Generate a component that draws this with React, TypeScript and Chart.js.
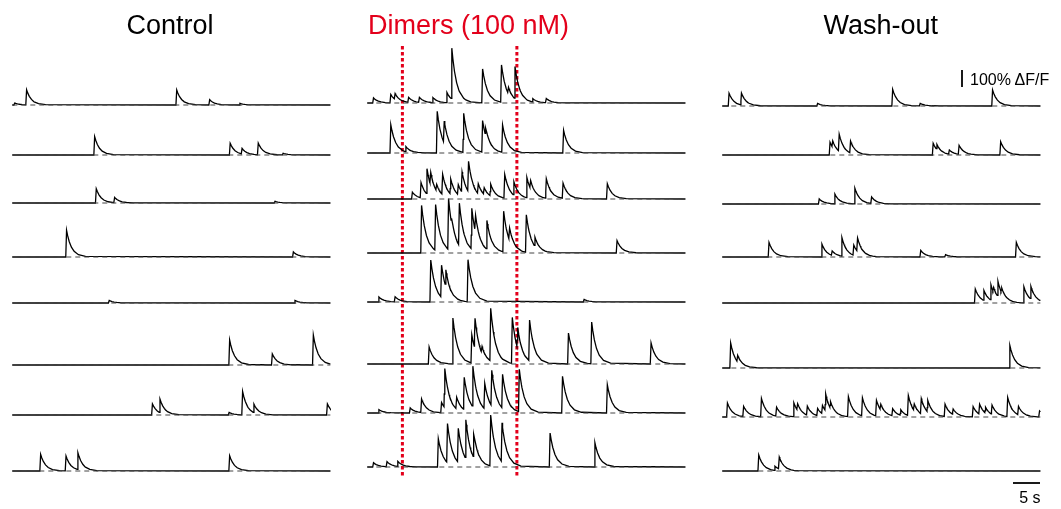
import React, { useEffect, useRef } from "react";
import { Chart, registerables } from "chart.js";

Chart.register(...registerables);

const W = 1061;
const H = 509;
const PX_PER_S = 5.4; // 5 s scale bar = 27 px
const PX_PER_UNIT = 17; // 100% ΔF/F scale bar = 17 px
const TRACE_SECONDS = 58.9;
const RISE = 0.15;
const TAU = 0.9;
const DECAY_KEYS = [0, RISE, RISE + 0.2, RISE + 0.5, RISE + 0.9, RISE + 1.4, RISE + 2.2, RISE + 3.5];

const RED = "#e3001b";

const panelTitles = ["Control", "Dimers (100 nM)", "Wash-out"];
const titleColors = ["#000000", RED, "#000000"];
const titleCentersPx = [170, 468.5, 880.7];
const panelLeftPx = [12.3, 367.3, 722.3];
const rowBaselinePx = [
  [105, 155, 203, 257, 303, 365, 415, 471],
  [103, 153, 199, 253, 302, 364, 413, 467],
  [106, 155, 204, 257, 303, 368, 417, 471],
];

// Dimer application window (s, within the middle panel)
const dimerWindow = [6.5, 27.7];

// Calcium transients: [time (s), amplitude (ΔF/F)]
const controlEvents: number[][][] = [
  [[0.3, 0.12], [2.5, 0.88], [30.3, 0.88], [36.4, 0.31], [42.0, 0.1]],
  [[15.1, 1.08], [40.2, 0.69], [42.4, 0.33], [45.4, 0.69], [50.0, 0.1]],
  [[15.4, 0.84], [18.8, 0.31], [48.5, 0.1]],
  [[9.9, 1.57], [51.9, 0.3]],
  [[17.8, 0.15], [52.2, 0.15]],
  [[40.1, 1.47], [48.0, 0.65], [55.6, 1.76]],
  [[25.8, 0.65], [27.2, 0.8], [40.0, 0.15], [42.5, 1.37], [44.6, 0.5], [58.2, 0.65]],
  [[5.1, 0.98], [9.8, 0.88], [12.0, 1.0], [40.1, 0.9]],
];

const dimerEvents: number[][][] = [
  [[1.0, 0.3], [4.2, 0.5], [5.0, 0.35], [7.5, 0.3], [9.5, 0.3], [12.0, 0.3], [14.6, 0.6], [15.5, 3.0], [21.2, 2.0], [24.7, 2.2], [26.0, 0.4], [27.2, 1.9], [30.5, 0.2], [33.0, 0.25]],
  [[4.2, 1.67], [7.0, 0.3], [12.8, 2.45], [14.1, 1.3], [17.7, 2.3], [21.2, 1.86], [21.8, 0.5], [24.9, 1.6], [36.2, 1.33]],
  [[8.2, 0.4], [9.8, 0.9], [10.9, 1.5], [11.6, 0.75], [12.7, 0.4], [13.8, 1.2], [15.3, 0.9], [16.7, 0.6], [17.4, 1.2], [18.6, 1.8], [20.4, 0.6], [21.5, 0.4], [22.7, 0.7], [25.3, 1.4], [27.0, 0.8], [29.4, 1.2], [30.1, 0.5], [33.0, 1.15], [36.1, 0.9], [44.3, 0.9]],
  [[9.9, 2.8], [12.5, 2.7], [14.9, 3.0], [15.5, 0.4], [16.9, 2.5], [19.2, 2.4], [19.9, 1.0], [22.0, 1.7], [25.1, 2.4], [26.2, 0.75], [29.3, 2.2], [30.9, 0.55], [46.1, 0.73]],
  [[2.0, 0.3], [5.0, 0.3], [11.6, 2.47], [13.6, 1.9], [14.4, 1.0], [18.5, 2.47], [40.0, 0.15]],
  [[11.3, 1.0], [15.7, 2.7], [19.2, 1.67], [19.8, 1.8], [21.1, 0.4], [22.7, 3.1], [26.7, 2.7], [27.7, 1.25], [29.9, 2.4], [37.1, 1.82], [41.4, 2.45], [52.4, 1.24]],
  [[2.0, 0.2], [7.8, 0.3], [9.9, 0.8], [13.6, 0.6], [14.2, 2.3], [16.4, 0.7], [17.8, 1.9], [19.4, 2.4], [21.6, 1.5], [22.9, 2.1], [24.9, 2.0], [28.0, 2.5], [36.0, 2.16], [44.3, 1.67]],
  [[1.0, 0.25], [3.5, 0.3], [5.5, 0.3], [13.0, 1.67], [14.7, 2.3], [16.7, 2.0], [18.1, 2.3], [19.6, 1.4], [22.7, 3.0], [24.8, 2.3], [33.7, 2.0], [42.0, 1.43]],
];

const washEvents: number[][][] = [
  [[1.1, 0.75], [3.4, 0.7], [17.5, 0.15], [31.4, 0.98], [36.5, 0.15], [49.9, 0.94]],
  [[19.8, 0.75], [20.3, 0.4], [21.5, 1.0], [23.6, 0.7], [38.9, 0.69], [39.6, 0.3], [41.9, 0.25], [43.7, 0.53], [51.4, 0.78]],
  [[17.8, 0.3], [20.7, 0.57], [24.4, 0.92], [27.5, 0.39]],
  [[8.5, 0.86], [18.3, 0.76], [20.2, 0.27], [22.0, 1.1], [24.2, 0.6], [24.9, 0.8], [36.6, 0.39], [41.2, 0.14], [54.3, 0.86]],
  [[46.7, 0.82], [48.3, 0.6], [49.6, 0.9], [50.1, 0.3], [50.9, 0.9], [51.6, 0.3], [55.7, 0.95], [57.0, 0.75]],
  [[1.4, 1.47], [2.7, 0.4], [53.1, 1.33]],
  [[0.8, 0.82], [3.8, 0.6], [7.1, 1.08], [9.9, 0.53], [13.1, 0.82], [13.8, 0.4], [15.6, 0.53], [17.5, 0.43], [18.4, 0.5], [19.0, 1.0], [19.9, 0.4], [23.2, 1.18], [25.8, 1.06], [28.4, 0.92], [29.2, 0.35], [31.4, 0.43], [32.9, 0.33], [34.3, 1.18], [35.4, 0.4], [36.7, 0.9], [37.9, 0.7], [41.1, 0.73], [42.6, 0.33], [46.3, 0.6], [47.5, 0.6], [48.6, 0.35], [49.8, 0.55], [52.7, 1.12], [54.7, 0.5], [58.6, 0.35]],
  [[6.6, 0.94], [9.6, 0.25], [10.4, 0.7]],
];

const panelEvents = [controlEvents, dimerEvents, washEvents];

// Scale bars
const scaleBarDff = 1.0; // 100% ΔF/F
const scaleBarSeconds = 5;
const scaleBarLabels = ["100% ΔF/F", "5 s"];

function transient(dt: number, amp: number): number {
  if (dt <= 0) return 0;
  if (dt < RISE) return (amp * dt) / RISE;
  return amp * Math.exp(-(dt - RISE) / TAU);
}

function buildTrace(events: number[][]): { t: number; v: number }[] {
  const keys = new Set<number>([0, TRACE_SECONDS]);
  events.forEach(([t0]) => {
    DECAY_KEYS.forEach((k) => {
      const t = +(t0 + k).toFixed(3);
      if (t >= 0 && t <= TRACE_SECONDS) keys.add(t);
    });
  });
  const times = Array.from(keys).sort((a, b) => a - b);
  return times.map((t) => ({
    t,
    v: events.reduce((s, [t0, a]) => s + transient(t - t0, a), 0),
  }));
}

const xOf = (panel: number, t: number) => panelLeftPx[panel] / PX_PER_S + t;
const yOf = (basePx: number, v: number) => -basePx / PX_PER_UNIT + v;

export default function App() {
  const ref = useRef<HTMLCanvasElement | null>(null);

  useEffect(() => {
    if (!ref.current) return;
    const datasets: any[] = [];

    panelEvents.forEach((rows, p) => {
      rows.forEach((events, r) => {
        const base = rowBaselinePx[p][r];
        datasets.push({
          data: [
            { x: xOf(p, 0), y: yOf(base, 0) },
            { x: xOf(p, TRACE_SECONDS), y: yOf(base, 0) },
          ],
          borderColor: "#444444",
          borderWidth: 1,
          borderDash: [5, 4],
          pointRadius: 0,
          fill: false,
        });
        datasets.push({
          data: buildTrace(events).map((d) => ({ x: xOf(p, d.t), y: yOf(base, d.v) })),
          borderColor: "#000000",
          borderWidth: 1.3,
          pointRadius: 0,
          fill: false,
          tension: 0,
        });
      });
    });

    // Dimer application markers
    dimerWindow.forEach((t) => {
      datasets.push({
        data: [
          { x: xOf(1, t), y: -46 / PX_PER_UNIT },
          { x: xOf(1, t), y: -477 / PX_PER_UNIT },
        ],
        borderColor: RED,
        borderWidth: 3,
        borderDash: [3.5, 2.5],
        pointRadius: 0,
        fill: false,
      });
    });

    // Vertical scale bar (100% ΔF/F)
    datasets.push({
      data: [
        { x: 962 / PX_PER_S, y: -87 / PX_PER_UNIT },
        { x: 962 / PX_PER_S, y: -87 / PX_PER_UNIT + scaleBarDff },
      ],
      borderColor: "#000000",
      borderWidth: 1.8,
      pointRadius: 0,
      fill: false,
    });
    // Horizontal scale bar (5 s)
    datasets.push({
      data: [
        { x: 1013 / PX_PER_S, y: -483 / PX_PER_UNIT },
        { x: 1013 / PX_PER_S + scaleBarSeconds, y: -483 / PX_PER_UNIT },
      ],
      borderColor: "#000000",
      borderWidth: 1.8,
      pointRadius: 0,
      fill: false,
    });

    const chart = new Chart(ref.current, {
      type: "line",
      data: { datasets },
      options: {
        animation: false,
        responsive: false,
        maintainAspectRatio: false,
        events: [],
        layout: { padding: 0 },
        plugins: { legend: { display: false }, tooltip: { enabled: false } },
        scales: {
          x: { type: "linear", display: false, min: 0, max: W / PX_PER_S },
          y: { type: "linear", display: false, min: -H / PX_PER_UNIT, max: 0 },
        },
      },
    });
    return () => chart.destroy();
  }, []);

  const font = '"Liberation Sans", Arial, Helvetica, sans-serif';
  const text = (f: number): React.CSSProperties => ({
    position: "absolute",
    fontFamily: font,
    fontSize: f,
    lineHeight: `${f}px`,
    whiteSpace: "nowrap",
  });

  return (
    <div style={{ position: "absolute", left: 0, top: 0, width: W, height: H, background: "#fff" }}>
      <canvas ref={ref} width={W} height={H} style={{ position: "absolute", left: 0, top: 0, width: W, height: H }} />
      {panelTitles.map((t, i) => (
        <div
          key={t}
          style={{ ...text(27), left: titleCentersPx[i], top: 12.2, transform: "translateX(-50%)", color: titleColors[i] }}
        >
          {t}
        </div>
      ))}
      <div style={{ ...text(16), left: 970, top: 71.5, color: "#000" }}>{scaleBarLabels[0]}</div>
      <div style={{ ...text(16), right: W - 1040.5, top: 489.8, color: "#000" }}>{scaleBarLabels[1]}</div>
    </div>
  );
}
